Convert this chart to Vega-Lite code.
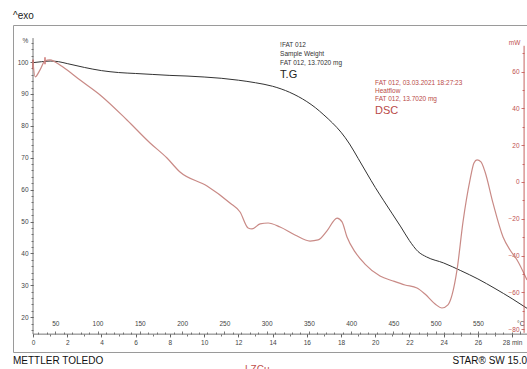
{
  "$schema": "https://vega.github.io/schema/vega-lite/v6.json",
  "width": 514,
  "height": 327,
  "autosize": {"type": "none"},
  "padding": {"left": 13, "top": 25, "right": 0, "bottom": 17},
  "background": "white",
  "config": {
    "view": {"stroke": "#9a9a9a", "strokeWidth": 1},
    "font": "Liberation Sans",
    "axis": {"grid": false, "domain": false, "labelFont": "Liberation Sans Narrow, Liberation Sans, sans-serif", "labelFontSize": 6.5, "labelColor": "#444", "tickColor": "#555", "tickWidth": 0.8, "labelPadding": 2}
  },
  "data": {"values": [{}]},
  "datasets": {
    "tg": [
      {"t": 0, "p": 99.8}, {"t": 0.5, "p": 100.1}, {"t": 1, "p": 100.3}, {"t": 1.5, "p": 100.1}, {"t": 2, "p": 99.5},
      {"t": 3, "p": 98.3}, {"t": 4, "p": 97.3}, {"t": 5, "p": 96.7}, {"t": 6, "p": 96.4}, {"t": 7, "p": 96.1},
      {"t": 8, "p": 95.8}, {"t": 9, "p": 95.6}, {"t": 10, "p": 95.3}, {"t": 11, "p": 94.9}, {"t": 12, "p": 94.3},
      {"t": 13, "p": 93.5}, {"t": 14, "p": 92.4}, {"t": 15, "p": 90.5}, {"t": 16, "p": 87.6}, {"t": 16.5, "p": 85.7},
      {"t": 17, "p": 83.4}, {"t": 17.5, "p": 80.9}, {"t": 18, "p": 78.0}, {"t": 18.5, "p": 74.3}, {"t": 19, "p": 69.8},
      {"t": 19.5, "p": 65.2}, {"t": 20, "p": 60.7}, {"t": 20.5, "p": 56.5}, {"t": 21, "p": 52.4}, {"t": 21.5, "p": 48.3},
      {"t": 22, "p": 44.0}, {"t": 22.5, "p": 40.6}, {"t": 23, "p": 38.9}, {"t": 24, "p": 37.0}, {"t": 25, "p": 34.6},
      {"t": 26, "p": 32.0}, {"t": 27, "p": 29.0}, {"t": 28, "p": 25.8}, {"t": 28.87, "p": 22.8}
    ],
    "dsc": [
      {"t": 0, "m": 65.2}, {"t": 0.12, "m": 57.1}, {"t": 0.41, "m": 60.9}, {"t": 0.7, "m": 65.8}, {"t": 0.99, "m": 66.3},
      {"t": 1.29, "m": 65.2}, {"t": 1.75, "m": 62.5}, {"t": 2.75, "m": 55.4}, {"t": 3.92, "m": 47.3}, {"t": 5.49, "m": 33.7},
      {"t": 6.84, "m": 21.2}, {"t": 7.83, "m": 13.0}, {"t": 8.59, "m": 5.4}, {"t": 10.17, "m": -2.2}, {"t": 11.51, "m": -11.4},
      {"t": 12.1, "m": -16.3}, {"t": 12.57, "m": -25.0}, {"t": 12.8, "m": -25.5}, {"t": 13.27, "m": -22.8}, {"t": 13.74, "m": -22.3},
      {"t": 14.44, "m": -24.5}, {"t": 15.31, "m": -28.8}, {"t": 16.19, "m": -32.1}, {"t": 16.66, "m": -31.5}, {"t": 17.18, "m": -26.6},
      {"t": 17.77, "m": -19.6}, {"t": 18.06, "m": -21.7}, {"t": 18.35, "m": -29.9}, {"t": 18.82, "m": -38.0}, {"t": 19.4, "m": -44.6},
      {"t": 20.28, "m": -51.1}, {"t": 21.04, "m": -53.8}, {"t": 21.74, "m": -56.0}, {"t": 22.44, "m": -57.6}, {"t": 22.91, "m": -60.9},
      {"t": 23.5, "m": -66.3}, {"t": 23.9, "m": -68.5}, {"t": 24.25, "m": -66.8}, {"t": 24.49, "m": -61.4}, {"t": 24.78, "m": -47.8},
      {"t": 25.13, "m": -21.7}, {"t": 25.54, "m": 1.1}, {"t": 25.77, "m": 10.3}, {"t": 25.95, "m": 12.0}, {"t": 26.18, "m": 10.9},
      {"t": 26.42, "m": 5.4}, {"t": 26.88, "m": -11.4}, {"t": 27.47, "m": -29.9}, {"t": 27.88, "m": -37.0}, {"t": 28.29, "m": -42.4},
      {"t": 28.87, "m": -53.3}
    ]
  },
  "resolve": {"scale": {"x": "independent", "y": "independent"}, "axis": {"x": "independent", "y": "independent"}},
  "layer": [
    {
      "data": {"name": "tg"},
      "mark": {"type": "line", "color": "#333333", "strokeWidth": 1, "interpolate": "monotone"},
      "encoding": {
        "x": {"field": "t", "type": "quantitative", "scale": {"domain": [-1.17, 28.87], "nice": false, "zero": false},
          "axis": {"orient": "bottom", "offset": -18, "values": [0, 2, 4, 6, 8, 10, 12, 14, 16, 18, 20, 22, 24, 26, 28], "tickSize": 3, "title": null,
            "labelExpr": "datum.value == 28 ? '28 min' : datum.label"}},
        "y": {"field": "p", "type": "quantitative", "scale": {"domain": [9.1, 111.6], "nice": false, "zero": false},
          "axis": {"orient": "left", "offset": -20, "values": [20, 30, 40, 50, 60, 70, 80, 90, 100], "tickSize": 3,
            "title": "%", "titleAngle": 0, "titleX": -8, "titleY": 15, "titleAlign": "center", "titleBaseline": "middle", "titleFontSize": 6.5, "titleFontWeight": "normal", "titleColor": "#444"}}
      }
    },
    {
      "mark": {"type": "rule", "color": "#666", "strokeWidth": 0.9},
      "encoding": {
        "x": {"datum": 0, "type": "quantitative", "scale": {"domain": [-1.17, 28.87], "nice": false, "zero": false}, "axis": null},
        "y": {"datum": 14.7, "type": "quantitative", "scale": {"domain": [9.1, 111.6], "nice": false, "zero": false}, "axis": null},
        "y2": {"datum": 107.5}
      }
    },
    {
      "mark": {"type": "rule", "color": "#666", "strokeWidth": 0.9},
      "encoding": {
        "x": {"datum": 0, "type": "quantitative", "scale": {"domain": [-1.17, 28.87], "nice": false, "zero": false}, "axis": null},
        "x2": {"datum": 28.87},
        "y": {"datum": 14.7, "type": "quantitative", "scale": {"domain": [9.1, 111.6], "nice": false, "zero": false}, "axis": null}
      }
    },
    {
      "mark": {"type": "rule", "color": "#c0504d", "strokeWidth": 1.2},
      "encoding": {
        "x": {"datum": 0, "type": "quantitative", "scale": {"domain": [-1.17, 28.87], "nice": false, "zero": false}, "axis": null},
        "y": {"datum": 97.7, "type": "quantitative", "scale": {"domain": [9.1, 111.6], "nice": false, "zero": false}, "axis": null},
        "y2": {"datum": 100.8}
      }
    },
    {
      "mark": {"type": "rule", "color": "#c0504d", "strokeWidth": 1.2},
      "encoding": {
        "x": {"datum": 0.7, "type": "quantitative", "scale": {"domain": [-1.17, 28.87], "nice": false, "zero": false}, "axis": null},
        "y": {"datum": 99.3, "type": "quantitative", "scale": {"domain": [9.1, 111.6], "nice": false, "zero": false}, "axis": null},
        "y2": {"datum": 101.5}
      }
    },
    {
      "mark": {"type": "text", "align": "left", "baseline": "top", "fontSize": 6.5, "lineHeight": 9, "color": "#333", "font": "Liberation Sans Narrow, Liberation Sans, sans-serif"},
      "encoding": {
        "x": {"datum": 14.44, "type": "quantitative", "scale": {"domain": [-1.17, 28.87], "nice": false, "zero": false}, "axis": null},
        "y": {"datum": 106.3, "type": "quantitative", "scale": {"domain": [9.1, 111.6], "nice": false, "zero": false}, "axis": null},
        "text": {"value": ["!FAT 012", "Sample Weight", "FAT 012, 13.7020 mg"]}
      }
    },
    {
      "mark": {"type": "text", "align": "left", "baseline": "middle", "fontSize": 11, "color": "#222", "font": "Liberation Sans Narrow, Liberation Sans, sans-serif"},
      "encoding": {
        "x": {"datum": 14.44, "type": "quantitative", "scale": {"domain": [-1.17, 28.87], "nice": false, "zero": false}, "axis": null},
        "y": {"datum": 95.9, "type": "quantitative", "scale": {"domain": [9.1, 111.6], "nice": false, "zero": false}, "axis": null},
        "text": {"value": "T.G"}
      }
    },
    {
      "mark": {"type": "text", "align": "left", "baseline": "top", "fontSize": 6.5, "lineHeight": 8, "color": "#b94a48", "font": "Liberation Sans Narrow, Liberation Sans, sans-serif"},
      "encoding": {
        "x": {"datum": 19.99, "type": "quantitative", "scale": {"domain": [-1.17, 28.87], "nice": false, "zero": false}, "axis": null},
        "y": {"datum": 94.5, "type": "quantitative", "scale": {"domain": [9.1, 111.6], "nice": false, "zero": false}, "axis": null},
        "text": {"value": ["FAT 012, 03.03.2021 18:27:23", "Heatflow", "FAT 012, 13.7020 mg"]}
      }
    },
    {
      "mark": {"type": "text", "align": "left", "baseline": "middle", "fontSize": 11, "color": "#b94a48", "font": "Liberation Sans Narrow, Liberation Sans, sans-serif"},
      "encoding": {
        "x": {"datum": 19.99, "type": "quantitative", "scale": {"domain": [-1.17, 28.87], "nice": false, "zero": false}, "axis": null},
        "y": {"datum": 84.6, "type": "quantitative", "scale": {"domain": [9.1, 111.6], "nice": false, "zero": false}, "axis": null},
        "text": {"value": "DSC"}
      }
    },
    {
      "mark": {"type": "text", "align": "left", "baseline": "middle", "fontSize": 10, "color": "#222"},
      "encoding": {
        "x": {"datum": -1.17, "type": "quantitative", "scale": {"domain": [-1.17, 28.87], "nice": false, "zero": false}, "axis": null},
        "y": {"datum": 114.4, "type": "quantitative", "scale": {"domain": [9.1, 111.6], "nice": false, "zero": false}, "axis": null},
        "text": {"value": "^exo"}
      }
    },
    {
      "mark": {"type": "text", "align": "left", "baseline": "middle", "fontSize": 10, "color": "#111", "font": "Liberation Sans Narrow, Liberation Sans, sans-serif"},
      "encoding": {
        "x": {"datum": -1.17, "type": "quantitative", "scale": {"domain": [-1.17, 28.87], "nice": false, "zero": false}, "axis": null},
        "y": {"datum": 6.2, "type": "quantitative", "scale": {"domain": [9.1, 111.6], "nice": false, "zero": false}, "axis": null},
        "text": {"value": "METTLER TOLEDO"}
      }
    },
    {
      "mark": {"type": "text", "align": "right", "baseline": "middle", "fontSize": 10, "color": "#111", "font": "Liberation Sans Narrow, Liberation Sans, sans-serif"},
      "encoding": {
        "x": {"datum": 28.87, "type": "quantitative", "scale": {"domain": [-1.17, 28.87], "nice": false, "zero": false}, "axis": null},
        "y": {"datum": 6.2, "type": "quantitative", "scale": {"domain": [9.1, 111.6], "nice": false, "zero": false}, "axis": null},
        "text": {"value": "STAR\u00ae SW 15.0"}
      }
    },
    {
      "mark": {"type": "text", "align": "left", "baseline": "middle", "fontSize": 10, "color": "#c0504d", "font": "Liberation Sans Narrow, Liberation Sans, sans-serif"},
      "encoding": {
        "x": {"datum": 12.39, "type": "quantitative", "scale": {"domain": [-1.17, 28.87], "nice": false, "zero": false}, "axis": null},
        "y": {"datum": 3.6, "type": "quantitative", "scale": {"domain": [9.1, 111.6], "nice": false, "zero": false}, "axis": null},
        "text": {"value": "LZCu"}
      }
    },
    {
      "data": {"name": "dsc"},
      "mark": {"type": "line", "color": "#c98a86", "strokeWidth": 1.2, "interpolate": "monotone"},
      "encoding": {
        "x": {"field": "t", "type": "quantitative", "scale": {"domain": [-1.17, 28.87], "nice": false, "zero": false}, "axis": null},
        "y": {"field": "m", "type": "quantitative", "scale": {"domain": [-92.4, 85.3], "nice": false, "zero": false},
          "axis": {"orient": "left", "offset": -511, "values": [-80, -60, -40, -20, 0, 20, 40, 60], "tickSize": 3, "labelColor": "#c0504d", "tickColor": "#c0504d",
            "title": "mW", "titleAngle": 0, "titleX": -10, "titleY": 17, "titleAlign": "center", "titleBaseline": "middle", "titleFontSize": 6.5, "titleFontWeight": "normal", "titleColor": "#c0504d"}}
      }
    },
    {
      "mark": {"type": "rule", "color": "#c0504d", "strokeWidth": 0.9},
      "encoding": {
        "x": {"datum": 28.7, "type": "quantitative", "scale": {"domain": [-1.17, 28.87], "nice": false, "zero": false}, "axis": null},
        "y": {"datum": -82, "type": "quantitative", "scale": {"domain": [-92.4, 85.3], "nice": false, "zero": false}, "axis": null},
        "y2": {"datum": 74}
      }
    },
    {
      "mark": {"type": "rule", "opacity": 0},
      "encoding": {
        "x": {"datum": 50, "type": "quantitative", "scale": {"domain": [0, 608], "nice": false, "zero": false},
          "axis": {"orient": "top", "offset": -309, "values": [50, 100, 150, 200, 250, 300, 350, 400, 450, 500, 550, 600], "tickSize": 3, "labelPadding": 5, "title": null,
            "labelExpr": "datum.value == 600 ? '\u00b0C' : datum.label"}}
      }
    },
    {
      "mark": {"type": "rule", "opacity": 0},
      "encoding": {
        "x": {"datum": 0, "type": "quantitative", "scale": {"domain": [-1.17, 28.87], "nice": false, "zero": false},
          "axis": {"orient": "bottom", "offset": -18, "values": [0, 1, 2, 3, 4, 5, 6, 7, 8, 9, 10, 11, 12, 13, 14, 15, 16, 17, 18, 19, 20, 21, 22, 23, 24, 25, 26, 27, 28], "tickSize": 2, "labels": false, "title": null}},
        "y": {"datum": 50, "type": "quantitative", "scale": {"domain": [9.1, 111.6], "nice": false, "zero": false},
          "axis": {"orient": "left", "offset": -20, "values": [16, 18, 20, 22, 24, 26, 28, 30, 32, 34, 36, 38, 40, 42, 44, 46, 48, 50, 52, 54, 56, 58, 60, 62, 64, 66, 68, 70, 72, 74, 76, 78, 80, 82, 84, 86, 88, 90, 92, 94, 96, 98, 100, 102, 104, 106], "tickSize": 2, "labels": false, "title": null}}
      }
    },
    {
      "mark": {"type": "rule", "opacity": 0},
      "encoding": {
        "x": {"datum": 50, "type": "quantitative", "scale": {"domain": [0, 608], "nice": false, "zero": false},
          "axis": {"orient": "top", "offset": -309, "values": [30, 40, 60, 70, 80, 90, 110, 120, 130, 140, 160, 170, 180, 190, 210, 220, 230, 240, 260, 270, 280, 290, 310, 320, 330, 340, 360, 370, 380, 390, 410, 420, 430, 440, 460, 470, 480, 490, 510, 520, 530, 540, 560, 570, 580, 590], "tickSize": 2, "labels": false, "title": null}},
        "y": {"datum": 0, "type": "quantitative", "scale": {"domain": [-92.4, 85.3], "nice": false, "zero": false},
          "axis": {"orient": "left", "offset": -511, "values": [-70, -50, -30, -10, 10, 30, 50, 70], "tickSize": 2, "labels": false, "tickColor": "#c0504d", "title": null}}
      }
    }
  ]
}
